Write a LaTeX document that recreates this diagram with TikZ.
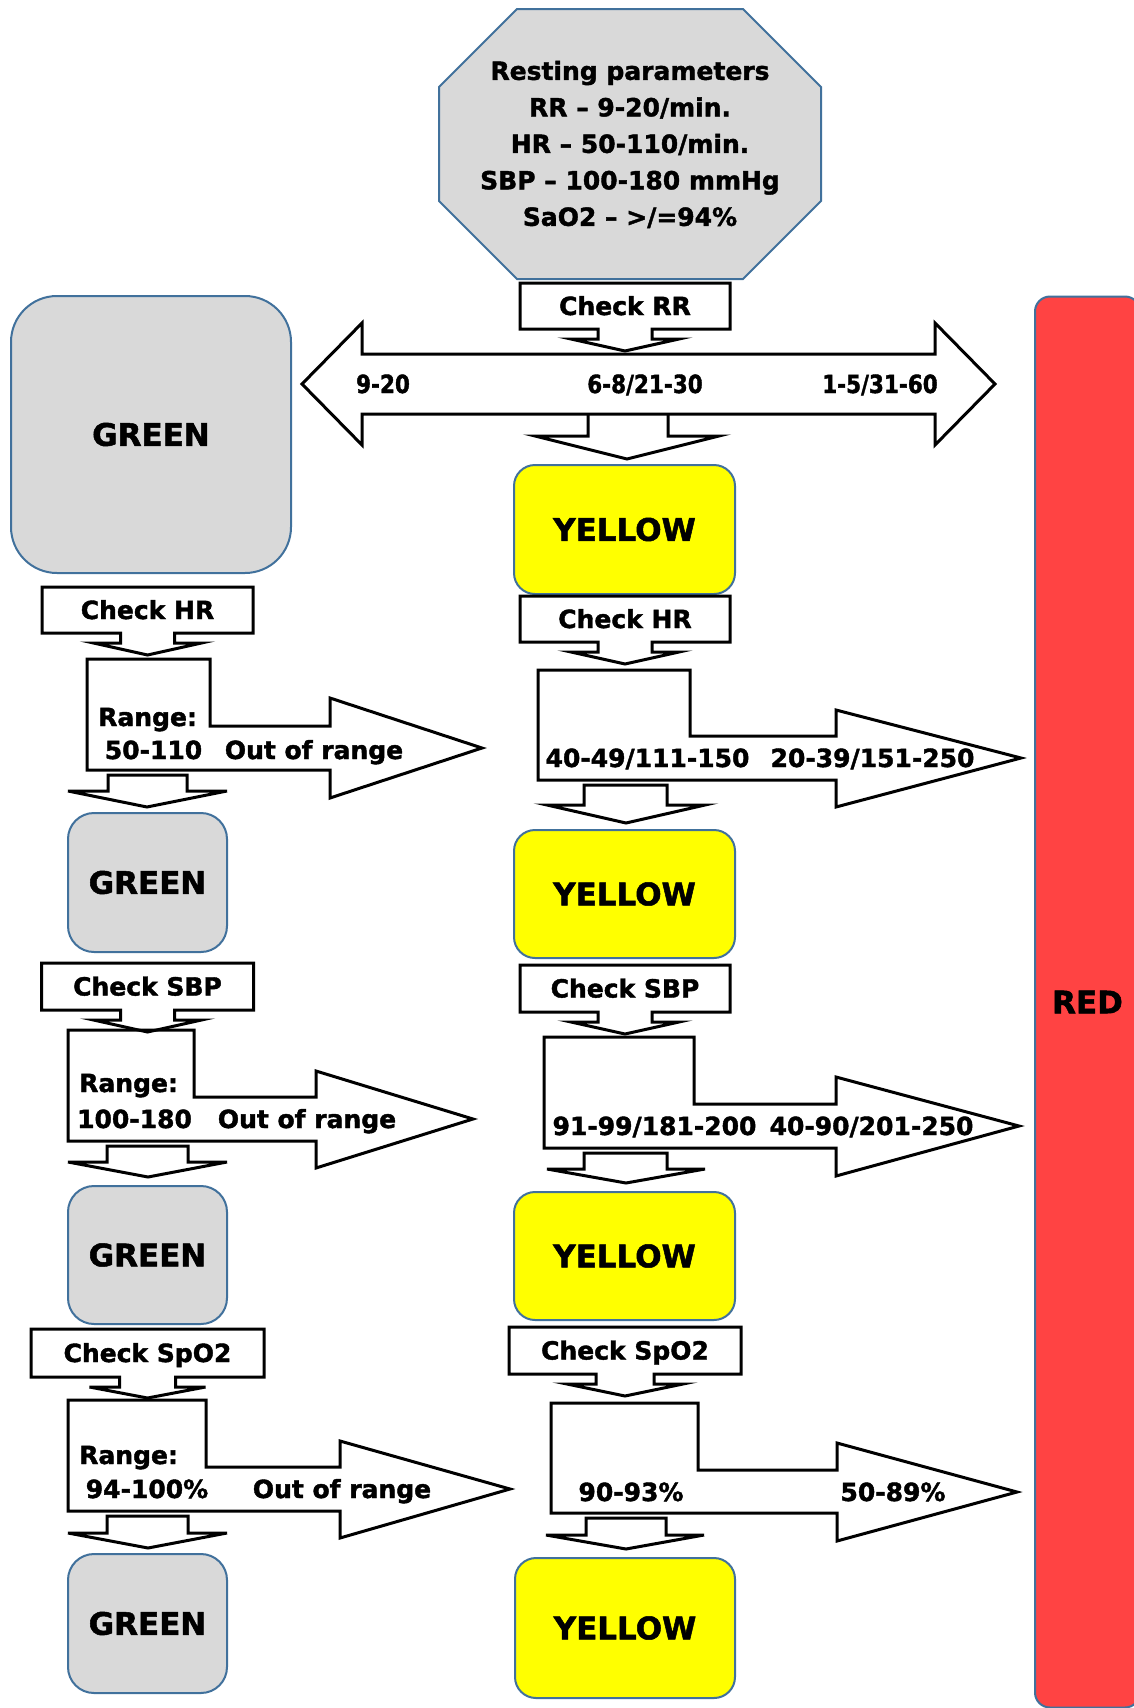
\documentclass[tikz,border=0pt]{standalone}
\usepackage{fontspec}
\setmainfont{DejaVu Sans}[BoldFeatures={FakeBold=1.6}]
\usetikzlibrary{calc,positioning}
\definecolor{boxGrey}{RGB}{217,217,217}
\definecolor{boxBlue}{RGB}{65,113,156}
\definecolor{boxYellow}{RGB}{255,255,0}
\definecolor{boxRed}{RGB}{255,67,67}
\tikzstyle{colourBox} = [rectangle, draw=boxBlue, line width=2pt, inner sep=0pt, font=\bfseries\fontsize{31}{36}\selectfont]
\tikzstyle{greenBox} = [colourBox, fill=boxGrey, rounded corners=26pt, minimum width=159pt, minimum height=139pt]
\tikzstyle{yellowBox} = [colourBox, fill=boxYellow, rounded corners=21pt, minimum width=221pt, minimum height=128pt]
\tikzstyle{redBox} = [colourBox, fill=boxRed, rounded corners=15pt, minimum width=105pt, minimum height=1411pt]
\tikzstyle{checkBox} = [rectangle, minimum width=211pt, minimum height=46pt, inner sep=0pt, outer sep=0pt, text height=18pt, text depth=0pt, font=\bfseries\fontsize{25}{30}\selectfont]
\tikzstyle{rangeText} = [inner sep=0pt, text height=18pt, text depth=0pt, font=\bfseries\fontsize{25}{30}\selectfont]
\tikzstyle{blockArrow} = [draw=black, line width=3pt, line join=miter]

\begin{document}
\begin{tikzpicture}[x=1pt, y=-1pt]
\fill[white] (0,0) rectangle (1133,1708);
\useasboundingbox (0,0) rectangle (1133,1708);
% resting parameters
\draw[fill=boxGrey, draw=boxBlue, line width=2pt] (517,9) -- (743,9) -- (821,87) -- (821,201) -- (743,279) -- (517,279) -- (439,201) -- (439,87) -- cycle;
\node (RP) [align=center, font=\bfseries\fontsize{25}{36.5}\selectfont] at (630,144.5) {Resting parameters\\RR – 9-20/min.\\HR – 50-110/min.\\SBP – 100-180 mmHg\\SaO2 – >/=94\%};
% respiratory rate
\node (CRR) [checkBox, minimum width=210pt] at (625,306) {Check RR};
\draw[blockArrow] (CRR.south west) -- (CRR.north west) -- (CRR.north east) -- (CRR.south east) -- ($(CRR.south)+(27,0)$) -- ++(0,10) -- ++(27,0) -- ($(CRR.south)+(0,22)$) -- ++(-54,-12) -- ++(27,0) -- ++(0,-10) -- cycle;
\draw[blockArrow] (302,384) -- (362,323) -- (362,354) -- (935,354) -- (935,323) -- (995,384) -- (935,445) -- (935,414) -- (362,414) -- (362,445) -- cycle;
\node (GRR) [rangeText] at (383,384) {\scalebox{0.86}[1]{9-20}};
\node (YRR) [rangeText] at (645,384) {\scalebox{0.86}[1]{6-8/21-30}};
\node (RRR) [rangeText] at (880,384) {\scalebox{0.86}[1]{1-5/31-60}};
\draw[blockArrow] (588,414) -- (588,436) -- (535,436) -- (627,459) -- (719,436) -- (668,436) -- (668,414);
\node (G0) [greenBox, minimum width=280pt, minimum height=277pt, rounded corners=46pt] at (151,434.5) {GREEN};
\node (Y1) [yellowBox, minimum height=129pt] at (624.5,529.5) {YELLOW};
\node (RED) [redBox] at (1087.5,1002) {RED};
% left column
\node (CHRL) [checkBox] at (147.5,610) {Check HR};
\draw[blockArrow] (CHRL.south west) -- (CHRL.north west) -- (CHRL.north east) -- (CHRL.south east) -- ($(CHRL.south)+(27,0)$) -- ++(0,10) -- ++(27,0) -- ($(CHRL.south)+(0,22)$) -- ++(-54,-12) -- ++(27,0) -- ++(0,-10) -- cycle;
\draw[blockArrow] (87,659) -- (210,659) -- (210,726) -- (330,726) -- (330,698) -- (482,748) -- (330,798) -- (330,770) -- (87,770) -- cycle;
\draw[blockArrow] (108,775) -- (187,775) -- (187,791) -- (227,791) -- (147,807) -- (68,791) -- (108,791) -- cycle;
\node (RgHR) [rangeText, anchor=west] at (98,717) {Range:};
\node (GHR) [rangeText] at (153.5,750) {50-110};
\node (OHR) [rangeText] at (314,750) {Out of range};
\node (G1) [greenBox] at (147.5,882.5) {GREEN};
\node (CSBPL) [checkBox, minimum width=212pt, minimum height=47pt] at (147.5,986.5) {Check SBP};
\draw[blockArrow] (CSBPL.south west) -- (CSBPL.north west) -- (CSBPL.north east) -- (CSBPL.south east) -- ($(CSBPL.south)+(27,0)$) -- ++(0,10) -- ++(27,0) -- ($(CSBPL.south)+(0,22)$) -- ++(-54,-12) -- ++(27,0) -- ++(0,-10) -- cycle;
\draw[blockArrow] (68,1030) -- (194,1030) -- (194,1097) -- (316,1097) -- (316,1071) -- (473,1119) -- (316,1168) -- (316,1141) -- (68,1141) -- cycle;
\draw[blockArrow] (107,1146) -- (188,1146) -- (188,1162) -- (227,1162) -- (148,1177) -- (68,1162) -- (107,1162) -- cycle;
\node (RgSBP) [rangeText, anchor=west] at (79,1083) {Range:};
\node (GSBP) [rangeText] at (134.5,1119) {100-180};
\node (OSBP) [rangeText] at (307,1119) {Out of range};
\node (G2) [greenBox, minimum height=138pt] at (147.5,1255) {GREEN};
\node (CSpL) [checkBox, minimum width=233pt, minimum height=48pt] at (147.5,1353) {Check SpO2};
\draw[blockArrow] (CSpL.south west) -- (CSpL.north west) -- (CSpL.north east) -- (CSpL.south east) -- ($(CSpL.south)+(28,0)$) -- ++(0,10) -- ++(30,0) -- ($(CSpL.south)+(0,21)$) -- ++(-58,-11) -- ++(30,0) -- ++(0,-10) -- cycle;
\draw[blockArrow] (68,1400) -- (206,1400) -- (206,1467) -- (340,1467) -- (340,1441) -- (510,1489) -- (340,1538) -- (340,1511) -- (68,1511) -- cycle;
\draw[blockArrow] (107,1516) -- (188,1516) -- (188,1533) -- (227,1533) -- (148,1548) -- (68,1533) -- (107,1533) -- cycle;
\node (RgSpO) [rangeText, anchor=west] at (79,1455) {Range:};
\node (GSpO) [rangeText] at (147,1489) {94-100\%};
\node (OSpO) [rangeText] at (342,1489) {Out of range};
\node (G3) [greenBox] at (147.5,1623.5) {GREEN};
% right column
\node (CHRR) [checkBox, minimum width=210pt] at (625,619) {Check HR};
\draw[blockArrow] (CHRR.south west) -- (CHRR.north west) -- (CHRR.north east) -- (CHRR.south east) -- ($(CHRR.south)+(27,0)$) -- ++(0,10) -- ++(27,0) -- ($(CHRR.south)+(0,22)$) -- ++(-54,-12) -- ++(27,0) -- ++(0,-10) -- cycle;
\draw[blockArrow] (538,670) -- (690,670) -- (690,736) -- (836,736) -- (836,710) -- (1021,758) -- (836,807) -- (836,780) -- (538,780) -- cycle;
\draw[blockArrow] (584,785) -- (667,785) -- (667,805) -- (705,805) -- (626,823) -- (547,805) -- (584,805) -- cycle;
\node (YHR) [rangeText] at (647.5,758) {40-49/111-150};
\node (RHR) [rangeText] at (872.5,758) {20-39/151-250};
\node (Y2) [yellowBox] at (624.5,894) {YELLOW};
\node (CSBPR) [checkBox, minimum width=210pt, minimum height=47pt] at (625,988.5) {Check SBP};
\draw[blockArrow] (CSBPR.south west) -- (CSBPR.north west) -- (CSBPR.north east) -- (CSBPR.south east) -- ($(CSBPR.south)+(27,0)$) -- ++(0,10) -- ++(27,0) -- ($(CSBPR.south)+(0,22)$) -- ++(-54,-12) -- ++(27,0) -- ++(0,-10) -- cycle;
\draw[blockArrow] (544,1037) -- (694,1037) -- (694,1104) -- (836,1104) -- (836,1077) -- (1019,1126) -- (836,1176) -- (836,1148) -- (544,1148) -- cycle;
\draw[blockArrow] (584,1153) -- (667,1153) -- (667,1169) -- (705,1169) -- (626,1183) -- (547,1169) -- (584,1169) -- cycle;
\node (YSBP) [rangeText] at (654.5,1126) {91-99/181-200};
\node (RSBP) [rangeText] at (871.5,1126) {40-90/201-250};
\node (Y3) [yellowBox] at (624.5,1256) {YELLOW};
\node (CSpR) [checkBox, minimum width=232pt, minimum height=47pt] at (625,1350.5) {Check SpO2};
\draw[blockArrow] (CSpR.south west) -- (CSpR.north west) -- (CSpR.north east) -- (CSpR.south east) -- ($(CSpR.south)+(29,0)$) -- ++(0,10) -- ++(29,0) -- ($(CSpR.south)+(0,22)$) -- ++(-58,-12) -- ++(29,0) -- ++(0,-10) -- cycle;
\draw[blockArrow] (551,1403) -- (698,1403) -- (698,1470) -- (837,1470) -- (837,1443) -- (1017,1492) -- (837,1541) -- (837,1513) -- (551,1513) -- cycle;
\draw[blockArrow] (586,1518) -- (666,1518) -- (666,1535) -- (704,1535) -- (626,1549) -- (546,1535) -- (586,1535) -- cycle;
\node (YSpO) [rangeText] at (631,1492) {90-93\%};
\node (RSpO) [rangeText] at (893,1492) {50-89\%};
\node (Y4) [yellowBox, minimum width=220pt, minimum height=140pt] at (625,1628) {YELLOW};
\end{tikzpicture}
\end{document}
